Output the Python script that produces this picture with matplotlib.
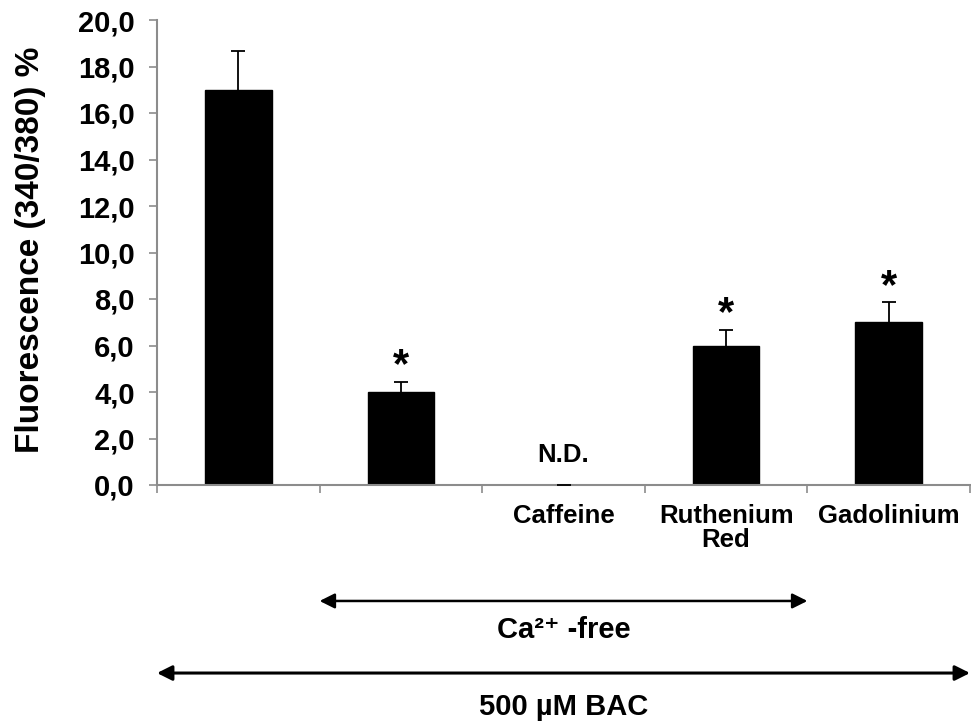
import numpy as np
import matplotlib
matplotlib.use("Agg")
import matplotlib.pyplot as plt
import matplotlib.transforms as mtransforms

# Data
categories = ["", "", "Caffeine", "Ruthenium\nRed", "Gadolinium"]
values = [17.0, 4.0, 0.0, 6.0, 7.0]
errors = [1.68, 0.45, 0.0, 0.68, 0.88]
significant = [False, True, False, True, True]
not_detected = [False, False, True, False, False]
y_ticks = [0, 2, 4, 6, 8, 10, 12, 14, 16, 18, 20]

# Groupings shown by arrows under the axis (category index ranges)
groups = [("Ca²⁺ -free", 1, 3, 0.1745, 0.123, 1.8),
          ("500 µM BAC", 0, 4, 0.0755, 0.018, 2.2)]

plt.rcParams["font.family"] = ["Liberation Sans", "DejaVu Sans"]
plt.rcParams["font.weight"] = "bold"

AX_GREY = "#8c8c8c"

fig = plt.figure(figsize=(9.71, 7.28), dpi=100)
ax = fig.add_axes([157 / 971, 1 - 485 / 728, 813 / 971, 465 / 728])

x = np.arange(len(values))
tops = np.array(values) + np.array(errors)
ax.bar(x, values, width=0.41, color="black", edgecolor="black", zorder=2)
# upper error bars only (stem + cap on top)
ax.vlines(x, values, tops, color="black", lw=1.3, zorder=3)
ax.plot(x, tops, ls="none", marker="_", markersize=9.5, markeredgewidth=1.3,
        color="black", zorder=3)

# significance stars and N.D.
for i in range(len(values)):
    if significant[i]:
        ax.annotate("*", xy=(x[i], tops[i]), xytext=(0, 3), textcoords="offset points",
                    ha="center", va="baseline", fontsize=30, fontweight="bold")
    if not_detected[i]:
        ax.annotate("N.D.", xy=(x[i], 0), xytext=(0, 13), textcoords="offset points",
                    ha="center", va="bottom", fontsize=18.5, fontweight="bold")

ax.set_xlim(-0.5, len(values) - 0.5)
ax.set_ylim(0, 20)
ax.set_yticks(y_ticks)
ax.set_yticklabels([f"{v:.1f}".replace(".", ",") for v in y_ticks],
                   fontsize=21, fontweight="bold")

# boundary ticks (major) and centred category labels (minor)
ax.set_xticks(np.arange(-0.5, len(values), 1.0))
ax.set_xticklabels([])
ax.set_xticks(x, minor=True)
ax.set_xticklabels(categories, minor=True, fontsize=18.5, fontweight="bold",
                   linespacing=1.0)
ax.tick_params(axis="x", which="major", direction="out", length=6,
               width=1.2, color=AX_GREY)
ax.tick_params(axis="x", which="minor", length=0, pad=14)
ax.tick_params(axis="y", direction="out", length=6, width=1.2,
               color=AX_GREY, pad=10)

for s in ["top", "right"]:
    ax.spines[s].set_visible(False)
for s in ["left", "bottom"]:
    ax.spines[s].set_color(AX_GREY)
    ax.spines[s].set_linewidth(1.5)

fig.text(30.5 / 971, 1 - 250 / 728, "Fluorescence (340/380) %", rotation=90,
         ha="center", va="center", fontsize=24, fontweight="bold")

trans = mtransforms.blended_transform_factory(ax.transData, fig.transFigure)
for label, i0, i1, y_arrow, y_text, lw in groups:
    ax.annotate("", xy=(i0 - 0.5, y_arrow), xytext=(i1 + 0.5, y_arrow),
                xycoords=trans, textcoords=trans, annotation_clip=False,
                arrowprops=dict(arrowstyle="<|-|>,head_length=0.5,head_width=0.25",
                                color="black", lw=lw, shrinkA=0, shrinkB=0,
                                mutation_scale=18))
    ax.text((i0 + i1) / 2, y_text, label, transform=trans, ha="center",
            va="baseline", fontsize=21, fontweight="bold")

fig.savefig("out.png", dpi=100)
